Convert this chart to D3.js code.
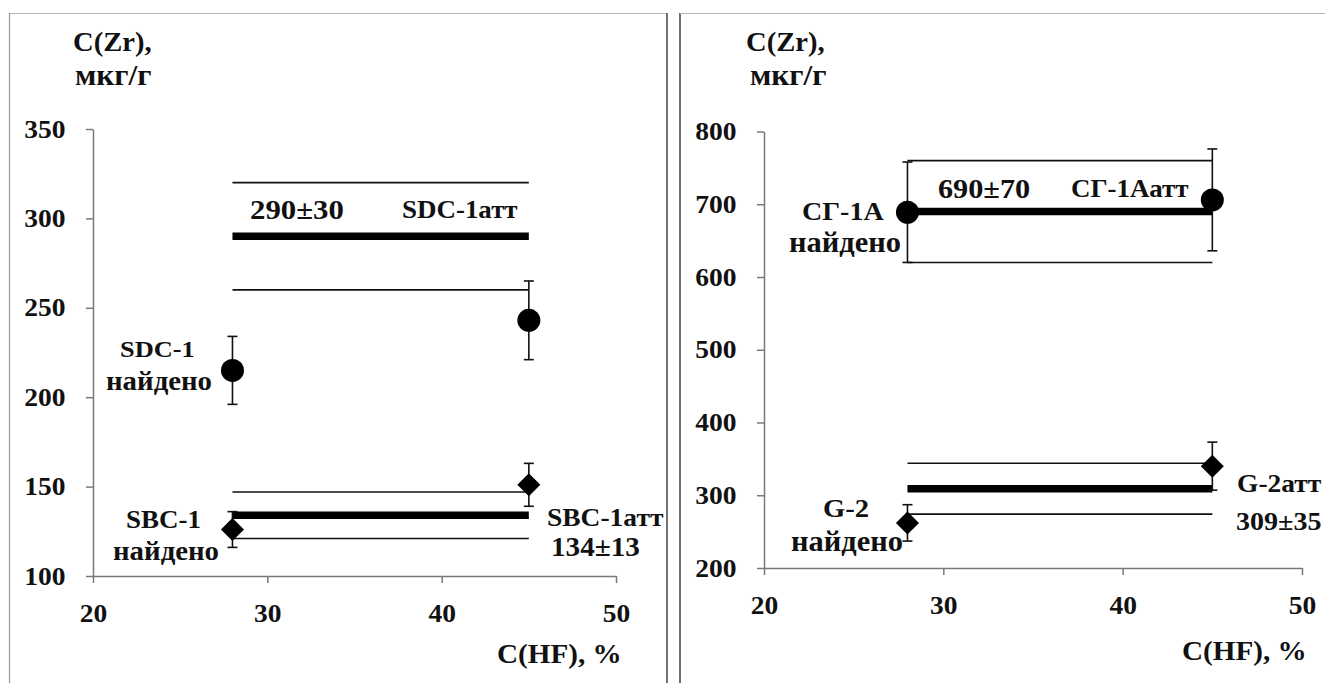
<!DOCTYPE html>
<html>
<head>
<meta charset="utf-8">
<script src="https://cdn.jsdelivr.net/npm/d3@7"></script>
<style>
  body { margin: 0; background: #fff; }
  text { font-family: "Liberation Serif", "Times New Roman", serif; font-weight: bold; fill: #111; }
</style>
</head>
<body>
<svg id="fig" width="1325" height="683"></svg>
<script>
/* données */
var hfTicks = [20, 30, 40, 50];
var hfConc = [28, 45];            // C(HF), % pour les deux séries

var leftYTicks = [100, 150, 200, 250, 300, 350];
var sdcFound = [215, 243], sdcErr = [19, 22];
var sbcFound = [126, 151], sbcErr = [10, 12];
var sdcCert = 290, sdcCertErr = 30;
var sbcCert = 134, sbcCertErr = 13;

var rightYTicks = [200, 300, 400, 500, 600, 700, 800];
var sgFound = [689, 706], sgErr = [69, 70];
var g2Found = [262, 340], g2Err = [25, 33];
var sgCert = 690, sgCertErr = 70;
var g2Cert = 309, g2CertErr = 35;

var SX = 1.1; // le texte de l'image est un peu étiré en largeur

var svg = d3.select("#fig");

/* cadres des deux panneaux */
svg.append("line").attr("x1", 9).attr("x2", 667).attr("y1", 13.5).attr("y2", 13.5)
    .attr("stroke", "#b5b5b5").attr("stroke-width", 1.2);
svg.append("line").attr("x1", 9.5).attr("x2", 9.5).attr("y1", 13).attr("y2", 683)
    .attr("stroke", "#999").attr("stroke-width", 1.2);
svg.append("line").attr("x1", 667).attr("x2", 667).attr("y1", 13).attr("y2", 683)
    .attr("stroke", "#707070").attr("stroke-width", 2);
svg.append("line").attr("x1", 680).attr("x2", 680).attr("y1", 13).attr("y2", 683)
    .attr("stroke", "#707070").attr("stroke-width", 2);
svg.append("line").attr("x1", 680).attr("x2", 1325).attr("y1", 13.5).attr("y2", 13.5)
    .attr("stroke", "#b5b5b5").attr("stroke-width", 1.2);

function label(g, str, x, y, size, sx) {
    g.append("text")
        .attr("transform", "translate(" + x + "," + y + ") scale(" + (sx || SX) + ",1)")
        .attr("font-size", size)
        .text(str);
}

function drawPanel(p) {
    var g = svg.append("g");
    var x = d3.scaleLinear().domain([20, 50]).range(p.xRange);
    var y = d3.scaleLinear().domain(p.yDomain).range(p.yRange);

    /* axes */
    var ax = g.append("g").attr("transform", "translate(0," + p.yRange[0] + ")")
        .call(d3.axisBottom(x).tickValues(hfTicks).tickSize(7).tickSizeOuter(0).tickPadding(21));
    var ay = g.append("g").attr("transform", "translate(" + p.xRange[0] + ",0)")
        .call(d3.axisLeft(y).tickValues(p.yTicks).tickSize(7).tickSizeOuter(0).tickPadding(18));
    [ax, ay].forEach(function (a) {
        a.attr("font-family", null);
        a.selectAll("path, line").attr("stroke", "#7a7a7a").attr("stroke-width", 1.5);
        a.selectAll("text").attr("font-size", 25)
            .attr("fill", "#111").attr("transform", "scale(" + SX + ",1)");
    });

    /* valeurs certifiées : trait épais et bornes fines */
    p.cert.forEach(function (c) {
        [c.v + c.e, c.v - c.e].forEach(function (b) {
            g.append("line").attr("x1", x(hfConc[0])).attr("x2", x(hfConc[1]))
                .attr("y1", y(b)).attr("y2", y(b))
                .attr("stroke", "#111").attr("stroke-width", 1.6);
        });
        g.append("line").attr("x1", x(hfConc[0])).attr("x2", x(hfConc[1]))
            .attr("y1", y(c.v)).attr("y2", y(c.v))
            .attr("stroke", "#000").attr("stroke-width", 7.5);
    });

    /* valeurs trouvées avec barres d'erreur */
    p.found.forEach(function (s) {
        var pts = hfConc.map(function (h, i) { return {h: h, v: s.vals[i], e: s.errs[i]}; });
        var eb = g.selectAll(null).data(pts).enter().append("g");
        eb.append("line")
            .attr("x1", function (d) { return x(d.h); })
            .attr("x2", function (d) { return x(d.h); })
            .attr("y1", function (d) { return y(d.v + d.e); })
            .attr("y2", function (d) { return y(d.v - d.e); })
            .attr("stroke", "#111").attr("stroke-width", 1.6);
        [1, -1].forEach(function (sg) {
            eb.append("line")
                .attr("x1", function (d) { return x(d.h) - 5; })
                .attr("x2", function (d) { return x(d.h) + 5; })
                .attr("y1", function (d) { return y(d.v + sg * d.e); })
                .attr("y2", function (d) { return y(d.v + sg * d.e); })
                .attr("stroke", "#111").attr("stroke-width", 1.6);
        });
        if (s.shape === "circle") {
            g.selectAll(null).data(pts).enter().append("circle")
                .attr("cx", function (d) { return x(d.h); })
                .attr("cy", function (d) { return y(d.v); })
                .attr("r", 11.5).attr("fill", "#000");
        } else {
            g.selectAll(null).data(pts).enter().append("path")
                .attr("d", d3.symbol().type(d3.symbolSquare).size(265))
                .attr("transform", function (d) {
                    return "translate(" + x(d.h) + "," + y(d.v) + ") rotate(45)";
                })
                .attr("fill", "#000");
        }
    });

    /* titres et étiquettes */
    p.labels.forEach(function (l) { label(g, l[0], l[1], l[2], l[3], l[4]); });
}

drawPanel({
    xRange: [93, 616], yDomain: [100, 350], yRange: [576, 129], yTicks: leftYTicks,
    cert: [{v: sdcCert, e: sdcCertErr}, {v: sbcCert, e: sbcCertErr}],
    found: [{vals: sdcFound, errs: sdcErr, shape: "circle"},
            {vals: sbcFound, errs: sbcErr, shape: "diamond"}],
    labels: [
        ["C(Zr),", 73, 51, 27, 1.06], ["мкг/г", 75, 85, 29, 1.08], ["C(HF), %", 497, 663, 26.5],
        [sdcCert + "±" + sdcCertErr, 250, 219, 28], ["SDC-1атт", 402, 218, 24.5],
        ["SDC-1", 120, 357, 24], ["найдено", 106, 390, 28, 1.03],
        ["SBC-1", 126, 528, 24.5], ["найдено", 113, 560, 28, 1.03],
        ["SBC-1атт", 547, 526, 25], [sbcCert + "±" + sbcCertErr, 551, 556, 26.5]
    ]
});

drawPanel({
    xRange: [764, 1302], yDomain: [200, 800], yRange: [568, 131.5], yTicks: rightYTicks,
    cert: [{v: sgCert, e: sgCertErr}, {v: g2Cert, e: g2CertErr}],
    found: [{vals: sgFound, errs: sgErr, shape: "circle"},
            {vals: g2Found, errs: g2Err, shape: "diamond"}],
    labels: [
        ["C(Zr),", 746, 51, 27, 1.06], ["мкг/г", 750, 85, 29, 1.08], ["C(HF), %", 1182, 660, 26.5],
        [sgCert + "±" + sgCertErr, 938, 198, 27.5], ["СГ-1Аатт", 1071, 197, 24.5],
        ["СГ-1А", 802, 220, 25.5], ["найдено", 789, 252, 29, 1.05],
        ["G-2", 823, 517, 26], ["найдено", 791, 551, 29, 1.05],
        ["G-2атт", 1237, 492, 25], [g2Cert + "±" + g2CertErr, 1236, 530, 25.5]
    ]
});
</script>
</body>
</html>
